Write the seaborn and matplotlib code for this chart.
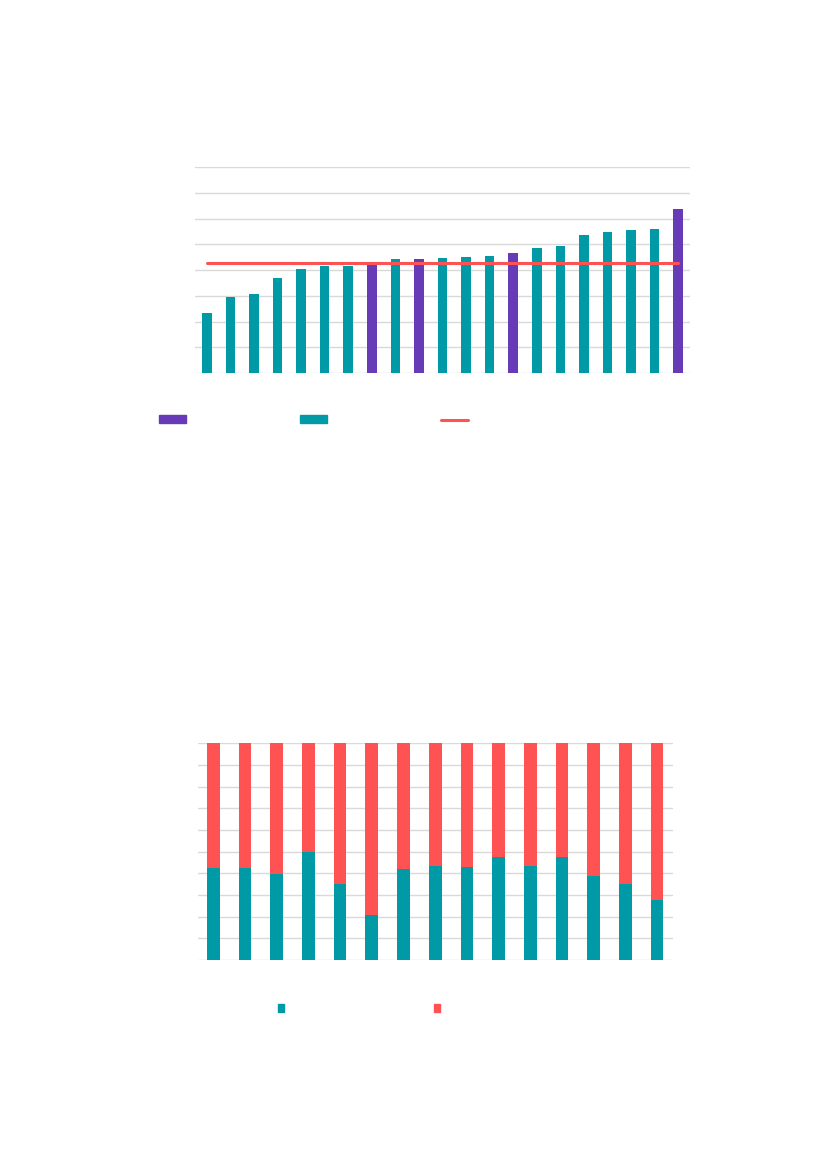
import matplotlib.pyplot as plt
import seaborn as sns
from matplotlib.lines import Line2D
from matplotlib.patches import Patch

# colours
TEAL = "#0099A6"
PURPLE = "#673AB7"
RED = "#FF5252"
GRID = "#D9D9D9"

# chart 1: sorted values, four highlighted bars, average line
top_values = [2.34, 2.97, 3.07, 3.70, 4.05, 4.14, 4.17, 4.28, 4.43, 4.44, 4.46,
              4.50, 4.54, 4.66, 4.86, 4.94, 5.37, 5.47, 5.54, 5.59, 6.37]
top_group = ["b", "b", "b", "b", "b", "b", "b", "a", "b", "a", "b",
             "b", "b", "a", "b", "b", "b", "b", "b", "b", "a"]
top_average = 4.28
top_ticks = list(range(0, 9))

# chart 2: share (%) of the teal part, the rest is red
share_teal = [42.6, 42.6, 39.7, 49.8, 35.1, 20.6, 42.0, 43.5, 43.1, 47.5,
              43.4, 47.5, 38.8, 35.2, 27.8]
share_ticks = list(range(0, 101, 10))

sns.set_style("white")
fig = plt.figure(figsize=(8.27, 11.69), dpi=100)


def style_axis(ax, ticks):
    ax.set_ylim(ticks[0], ticks[-1])
    ax.set_yticks(ticks)
    ax.set_yticklabels([])
    ax.set_xticklabels([])
    ax.set_xlabel("")
    ax.set_ylabel("")
    ax.tick_params(length=0)
    ax.grid(axis="y", color=GRID, linewidth=1.0)
    ax.grid(axis="x", visible=False)
    ax.set_axisbelow(True)
    for side in ax.spines.values():
        side.set_visible(False)


# --- top chart ---
ax1 = fig.add_axes([0.2358, 0.6809, 0.5985, 0.1762])
bar_w1 = 0.41
idx1 = list(range(len(top_values)))
sns.barplot(x=idx1, y=top_values, hue=top_group, palette={"a": PURPLE, "b": TEAL},
            dodge=False, width=bar_w1, legend=False, ax=ax1, saturation=1,
            linewidth=0)
# average line runs from the first to the last bar centre
ax1.hlines(top_average, idx1[0], idx1[-1], color=RED, linewidth=2.2,
           capstyle="round", zorder=5)
style_axis(ax1, top_ticks)
ax1.set_xlim(-0.5, len(top_values) - 0.5)

fs = 10
px = fs * 100 / 72
fig.legend(
    handles=[Patch(color=PURPLE), Patch(color=TEAL),
             Line2D([], [], color=RED, linewidth=2.2, solid_capstyle="round")],
    labels=["", "", ""], ncol=3, frameon=False, fontsize=fs,
    loc="center left", bbox_to_anchor=(159 / 827, 1 - 420 / 1169),
    handlelength=27 / px, handleheight=7 / px, handletextpad=0,
    columnspacing=(141 - 27) / px, borderpad=0, borderaxespad=0,
)

# --- bottom chart ---
ax2 = fig.add_axes([0.2390, 0.1788, 0.5744, 0.1854])
bar_w2 = 0.40
idx2 = list(range(len(share_teal)))
sns.barplot(x=idx2, y=[share_ticks[-1]] * len(share_teal), color=RED,
            width=bar_w2, ax=ax2, saturation=1, linewidth=0)
sns.barplot(x=idx2, y=share_teal, color=TEAL, width=bar_w2, ax=ax2,
            saturation=1, linewidth=0)
style_axis(ax2, share_ticks)
ax2.set_xlim(-0.5, len(share_teal) - 0.5)

fig.legend(
    handles=[Patch(color=TEAL), Patch(color=RED)],
    labels=["", ""], ncol=2, frameon=False, fontsize=fs,
    loc="center left", bbox_to_anchor=(278 / 827, 1 - 1009 / 1169),
    handlelength=6 / px, handleheight=6 / px, handletextpad=0,
    columnspacing=(156 - 6) / px, borderpad=0, borderaxespad=0,
)

fig.savefig("out.png", dpi=100)
